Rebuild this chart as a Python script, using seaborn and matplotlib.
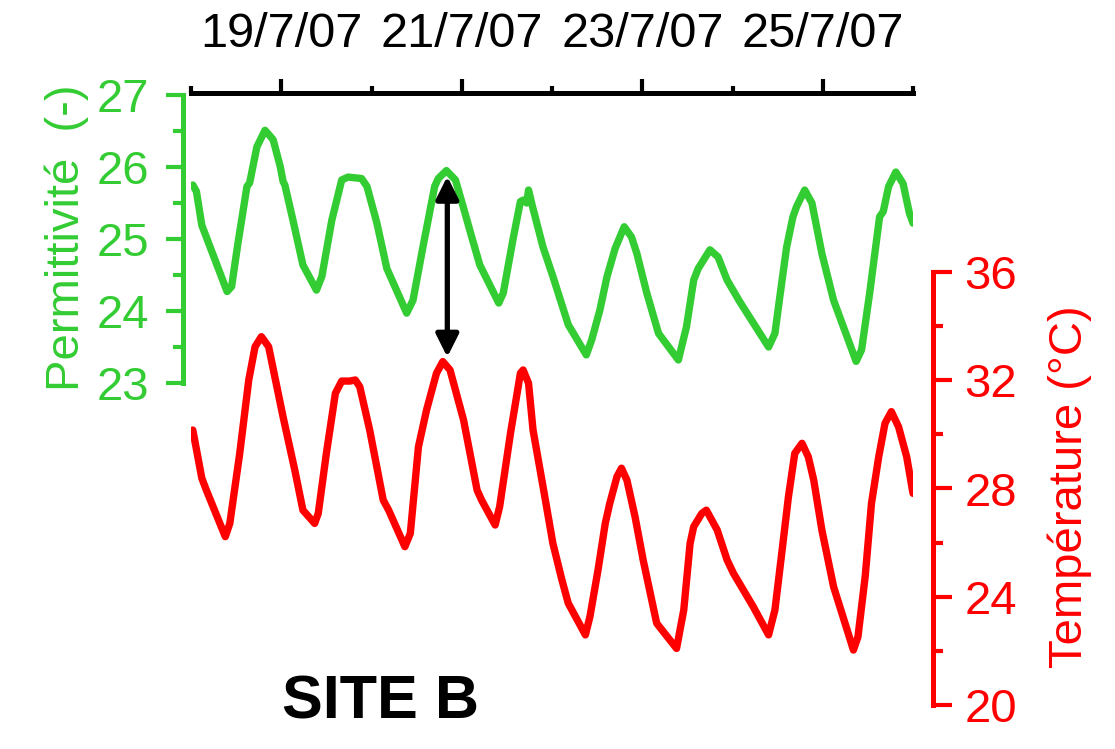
import matplotlib

matplotlib.use("Agg")

import matplotlib.pyplot as plt
import seaborn as sns
from matplotlib.ticker import FixedLocator, FixedFormatter


GREEN = "#33cc33"
RED = "#ff0000"

# time axis: day of July 2007 (fractional)
perm_days = [
    18.02, 18.06, 18.12, 18.40, 18.45, 18.52, 18.62, 18.65, 18.73, 18.82,
    18.91, 18.99, 19.02, 19.04, 19.13, 19.24, 19.39, 19.45, 19.56, 19.67,
    19.74, 19.89, 19.95, 20.06, 20.17, 20.39, 20.46, 20.57, 20.70, 20.74,
    20.83, 20.93, 21.02, 21.11, 21.20, 21.41, 21.46, 21.57, 21.65, 21.68,
    21.72, 21.74, 21.78, 21.90, 22.01, 22.18, 22.38, 22.44, 22.53, 22.61,
    22.70, 22.80, 22.88, 22.94, 23.05, 23.18, 23.40, 23.49, 23.57, 23.62,
    23.75, 23.84, 23.94, 24.08, 24.40, 24.47, 24.53, 24.60, 24.67, 24.71,
    24.80, 24.88, 24.91, 24.99, 25.12, 25.37, 25.43, 25.52, 25.63, 25.67,
    25.73, 25.81, 25.89, 25.96, 26.00,
]
permittivity = [
    25.75, 25.66, 25.19, 24.27, 24.34, 24.94, 25.73, 25.78, 26.28, 26.51,
    26.38, 26.00, 25.80, 25.75, 25.26, 24.64, 24.29, 24.48, 25.26, 25.82,
    25.86, 25.84, 25.73, 25.22, 24.59, 23.97, 24.15, 24.89, 25.73, 25.84,
    25.95, 25.82, 25.43, 25.03, 24.64, 24.11, 24.25, 25.01, 25.52, 25.54,
    25.50, 25.68, 25.47, 24.89, 24.48, 23.81, 23.39, 23.60, 24.01, 24.48,
    24.87, 25.17, 25.03, 24.80, 24.25, 23.69, 23.32, 23.78, 24.43, 24.59,
    24.85, 24.75, 24.43, 24.13, 23.50, 23.69, 24.25, 24.89, 25.31, 25.45,
    25.68, 25.50, 25.31, 24.80, 24.15, 23.30, 23.46, 24.25, 25.31, 25.38,
    25.73, 25.93, 25.77, 25.36, 25.22,
]

temp_days = [
    18.02, 18.12, 18.17, 18.38, 18.43, 18.54, 18.64, 18.71, 18.78, 18.86,
    19.02, 19.15, 19.24, 19.37, 19.41, 19.50, 19.60, 19.67, 19.76, 19.82,
    19.87, 19.98, 20.13, 20.19, 20.37, 20.43, 20.52, 20.61, 20.72, 20.79,
    20.87, 21.02, 21.17, 21.22, 21.37, 21.42, 21.54, 21.65, 21.68, 21.74,
    21.79, 21.92, 22.01, 22.11, 22.18, 22.37, 22.42, 22.51, 22.59, 22.64,
    22.72, 22.77, 22.83, 22.92, 23.01, 23.16, 23.38, 23.46, 23.53, 23.57,
    23.66, 23.71, 23.83, 23.94, 24.01, 24.23, 24.40, 24.47, 24.55, 24.62,
    24.69, 24.77, 24.84, 24.90, 24.99, 25.12, 25.34, 25.39, 25.47, 25.54,
    25.62, 25.69, 25.76, 25.84, 25.93, 26.00,
]
temperature = [
    30.16, 28.38, 27.94, 26.22, 26.71, 29.30, 32.01, 33.24, 33.61, 33.24,
    30.65, 28.68, 27.20, 26.71, 27.08, 29.30, 31.52, 31.97, 31.97, 32.01,
    31.76, 30.16, 27.57, 27.20, 25.85, 26.34, 29.54, 30.90, 32.26, 32.69,
    32.38, 30.53, 27.94, 27.57, 26.65, 27.33, 30.04, 32.26, 32.38, 31.89,
    30.16, 27.70, 25.97, 24.62, 23.76, 22.59, 23.26, 24.99, 26.71, 27.45,
    28.44, 28.75, 28.31, 26.96, 25.36, 23.02, 22.09, 23.51, 25.97, 26.59,
    27.08, 27.20, 26.47, 25.36, 24.87, 23.63, 22.59, 23.51, 25.73, 27.70,
    29.30, 29.67, 29.17, 28.31, 26.47, 24.37, 22.03, 22.52, 24.74, 27.45,
    29.17, 30.41, 30.84, 30.28, 29.17, 27.82,
]

date_ticks = [19, 21, 23, 25]
date_labels = ["19/7/07", "21/7/07", "23/7/07", "25/7/07"]
date_minor = [18, 20, 22, 24, 26]

# double arrow: permittivity peak vs temperature peak on 20/7 evening
arrow_day = 20.84
arrow_top = 25.87
arrow_bottom = 23.36

sns.set_style("white")
plt.rcParams["font.family"] = ["Liberation Sans", "DejaVu Sans"]

fig = plt.figure(figsize=(11.15, 7.49), dpi=100)
ax_t = fig.add_axes([191 / 1115, 44 / 749, 722 / 1115, 433 / 749])
ax_p = fig.add_axes([191 / 1115, 366 / 749, 722 / 1115, 288 / 749])
for ax in (ax_t, ax_p):
    ax.patch.set_visible(False)
    ax.set_xlim(18, 26)

# temperature (red, right axis)
sns.lineplot(x=temp_days, y=temperature, ax=ax_t, color=RED, lw=5.3,
             estimator=None, sort=False,
             solid_capstyle="round", solid_joinstyle="round")
ax_t.set_ylim(20, 36)
for side in ("left", "top", "bottom"):
    ax_t.spines[side].set_visible(False)
ax_t.spines["right"].set_color(RED)
ax_t.spines["right"].set_linewidth(3.6)
ax_t.spines["right"].set_position(("outward", 14.4))
ax_t.set_xticks([])
ax_t.yaxis.tick_right()
ax_t.yaxis.set_major_locator(FixedLocator([20, 24, 28, 32, 36]))
ax_t.yaxis.set_minor_locator(FixedLocator([22, 26, 30, 34]))
ax_t.tick_params(axis="y", which="both", left=False, right=True)
ax_t.tick_params(axis="y", which="major", direction="out", length=13.5, width=3,
                 color=RED, labelcolor=RED, labelsize=34, pad=9)
ax_t.tick_params(axis="y", which="minor", direction="out", length=7, width=3, color=RED)
ax_t.set_xlabel("")
ax_t.set_ylabel("")

# permittivity (green, left axis, dates on top)
sns.lineplot(x=perm_days, y=permittivity, ax=ax_p, color=GREEN, lw=5.3,
             estimator=None, sort=False,
             solid_capstyle="round", solid_joinstyle="round")
ax_p.set_ylim(23, 27)
ax_p.spines["bottom"].set_visible(False)
ax_p.spines["right"].set_visible(False)
ax_p.spines["left"].set_color(GREEN)
ax_p.spines["left"].set_linewidth(3.6)
ax_p.spines["left"].set_position(("outward", 5.8))
ax_p.spines["top"].set_color("black")
ax_p.spines["top"].set_linewidth(3.6)
ax_p.spines["top"].set_position(("outward", 1.5))
ax_p.yaxis.set_major_locator(FixedLocator([23, 24, 25, 26, 27]))
ax_p.yaxis.set_minor_locator(FixedLocator([23.5, 24.5, 25.5, 26.5]))
ax_p.tick_params(axis="y", which="both", left=True, right=False)
ax_p.tick_params(axis="y", which="major", direction="out", length=12, width=3,
                 color=GREEN, labelcolor=GREEN, labelsize=34, pad=12)
ax_p.tick_params(axis="y", which="minor", direction="out", length=7, width=3, color=GREEN)
ax_p.xaxis.tick_top()
ax_p.xaxis.set_major_locator(FixedLocator(date_ticks))
ax_p.xaxis.set_major_formatter(FixedFormatter(date_labels))
ax_p.xaxis.set_minor_locator(FixedLocator(date_minor))
ax_p.tick_params(axis="x", which="both", top=True, bottom=False)
ax_p.tick_params(axis="x", which="major", direction="out", length=10, width=3,
                 color="black", labelcolor="black", labelsize=35, pad=16)
ax_p.tick_params(axis="x", which="minor", direction="out", length=5, width=3, color="black")
ax_p.set_xlabel("")
ax_p.set_ylabel("")

ax_p.annotate("", xy=(arrow_day, arrow_bottom), xytext=(arrow_day, arrow_top),
              arrowprops=dict(arrowstyle="<|-|>", color="black", lw=3.8,
                              mutation_scale=34, shrinkA=0, shrinkB=0),
              annotation_clip=False)

fig.text(67 / 1115, 1 - 238 / 749, "Permittivité  (-)", rotation=90,
         ha="center", va="center", color=GREEN, fontsize=34)
fig.text(1070 / 1115, 1 - 487 / 749, "Température (°C)", rotation=90,
         ha="center", va="center", color=RED, fontsize=34)
fig.text(381 / 1115, 1 - 703 / 749, "SITE B", ha="center", va="center",
         fontsize=44, fontweight="bold", color="black")

fig.savefig("out.png", dpi=100)
plt.close(fig)
